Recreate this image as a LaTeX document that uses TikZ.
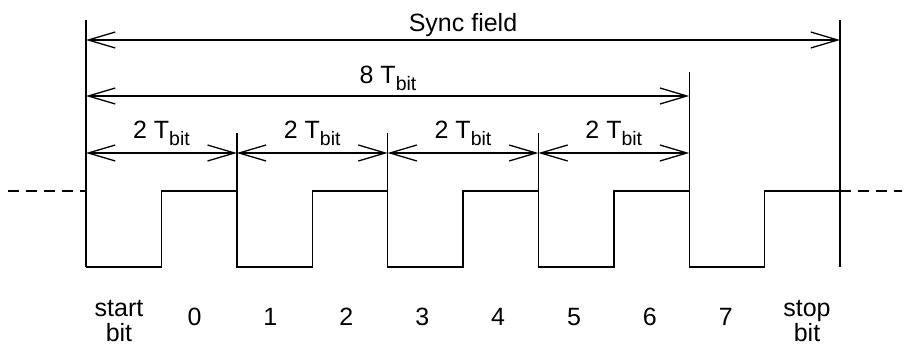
\documentclass[tikz,border=0pt]{standalone}
\usepackage{fontspec}
\setmainfont{Liberation Sans}
\usetikzlibrary{arrows.meta}
\newcommand\Tsubbit{T\raisebox{-7pt}{\fontsize{19.5}{19.5}\selectfont bit}}
\begin{document}
\begin{tikzpicture}[x=1pt,y=-1pt,line width=1.4pt,
  barb/.tip={Straight Barb[length=27pt,width=16pt]},
  dim/.style={barb-barb,line width=1.3pt},
  lbl/.style={anchor=base,inner sep=0pt,font=\fontsize{25}{25}\selectfont},
  two/.style={lbl,align=center},
  lead/.style={dashed,dash pattern=on 11pt off 7pt,line width=1.4pt}]
\useasboundingbox (0,0) rectangle (907,347);
% time marks
\foreach \k/\top in {0/20,1/133,2/133,3/133,4/72,5/20}{
  \coordinate (m\k) at ({86+150.8*\k},267);
  \coordinate (u\k) at ({86+150.8*\k},\top);
  \draw (u\k) -- (m\k);
}
\foreach \k in {0,...,4}{
  \coordinate (h\k) at ({161.4+150.8*\k},267);
}
% dashed leads
\coordinate (dl) at (8,191);
\coordinate (dr) at (902,191);
\draw[lead] (dl) -- (m0 |- dl);
\draw[lead] (m5 |- dr) -- (dr);
% waveform
\draw (m0) -- (h0) -- (h0 |- dl) -- (m1 |- dl) -- (m1)
      -- (h1) -- (h1 |- dl) -- (m2 |- dl) -- (m2)
      -- (h2) -- (h2 |- dl) -- (m3 |- dl) -- (m3)
      -- (h3) -- (h3 |- dl) -- (m4 |- dl) -- (m4)
      -- (h4) -- (h4 |- dl) -- (m5 |- dl);
% dimension arrows
\coordinate (ys) at (0,40);
\coordinate (y8) at (0,96);
\coordinate (y2) at (0,153);
\draw[dim] (m0 |- ys) -- (m5 |- ys);
\draw[dim] (m0 |- y8) -- (m4 |- y8);
\foreach \k [evaluate=\k as \n using int(\k+1)] in {0,...,3}{
  \draw[dim] (m\k |- y2) -- (m\n |- y2);
}
% labels
\node[lbl] (sync) at (463,32) {Sync field};
\node[lbl] (eight) at (388,84) {8 \Tsubbit};
\foreach \k in {0,...,3}{
  \node[lbl] (two\k) at ({161.4+150.8*\k},139) {2 \Tsubbit};
}
\node[two] (start) at (119,341) {start\\[0pt]bit};
\foreach \k/\t in {0/0,1/1,2/2,3/3,4/4,5/5,6/6,7/7}{
  \node[lbl] (b\k) at ({194.5+75.9*\k},325) {\t};
}
\node[two] (stop) at (807,341) {stop\\[0pt]bit};
\end{tikzpicture}
\end{document}
